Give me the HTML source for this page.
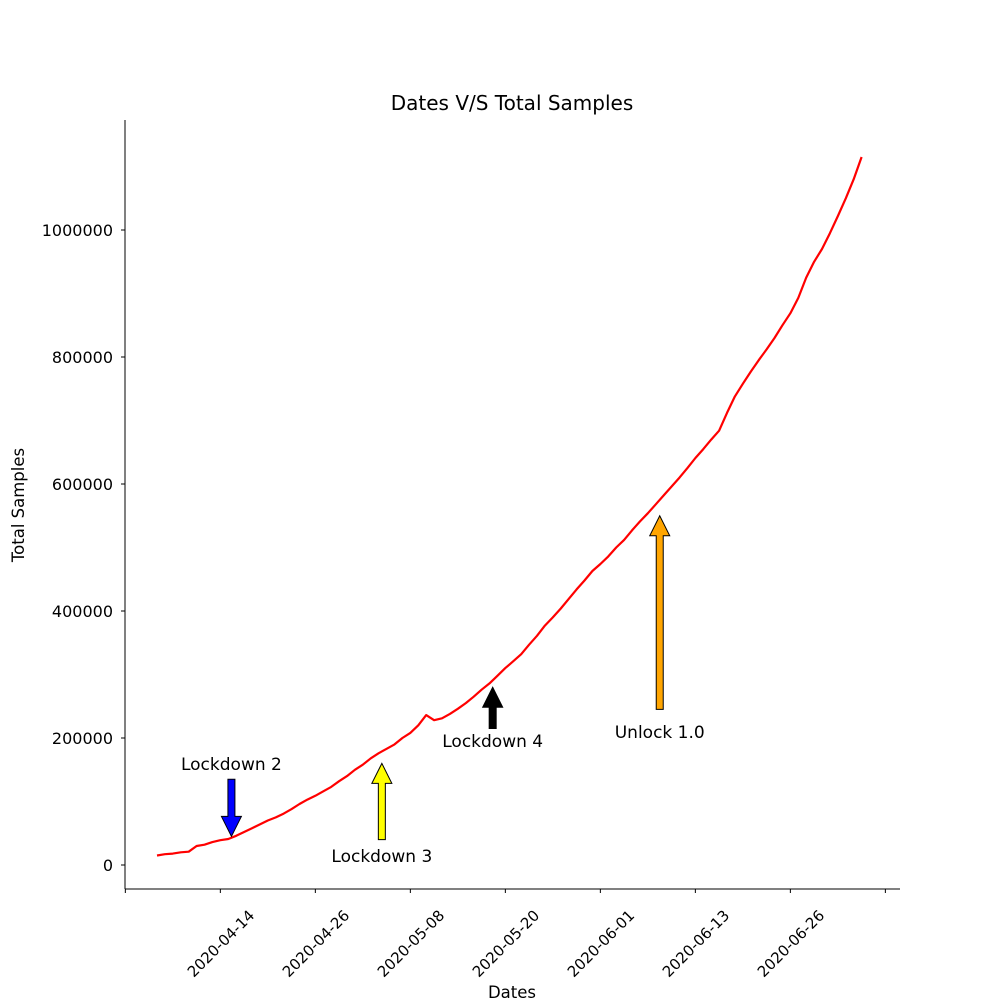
<!DOCTYPE html>
<html><head><meta charset="utf-8"><style>
body{margin:0;background:#fff;font-family:"Liberation Sans","DejaVu Sans",sans-serif}
</style></head><body>
<svg id="chart" width="1000" height="1000" xmlns="http://www.w3.org/2000/svg" style="font-family:'DejaVu Sans','Liberation Sans',sans-serif">
<rect width="1000" height="1000" fill="#fff"/>
<text x="512" y="110" text-anchor="middle" font-size="20">Dates V/S Total Samples</text>
<text x="512" y="998" text-anchor="middle" font-size="16.5">Dates</text>
<text transform="translate(24,505) rotate(-90)" text-anchor="middle" font-size="16.5">Total Samples</text>
<g id="axes"></g>
<g id="plot"></g>
<g id="ann"></g>
</svg>
<script>
const values=[15000,17000,18000,20000,21000,30000,32000,36000,39000,41000,46000,52000,58000,64000,70000,75000,81000,88000,96000,103000,109000,116000,123000,132000,140000,150000,158000,168000,176000,183000,190000,200000,208000,220000,236000,228000,231000,238000,246000,255000,265000,276000,286000,298000,310000,321000,332000,347000,361000,377000,390000,404000,419000,434000,448000,463000,474000,486000,500000,512000,527000,541000,554000,568000,582000,596000,610000,625000,641000,655000,670000,684000,712000,738000,758000,777000,795000,812000,830000,850000,869000,893000,925000,950000,970000,995000,1022000,1050000,1080000,1115000];
const xTickIdx=[-4,8,20,32,44,56,68,80,92];
const xTickLabels=["","2020-04-14","2020-04-26","2020-05-08","2020-05-20","2020-06-01","2020-06-13","2020-06-26",""];
const yTicks=[0,200000,400000,600000,800000,1000000];
const annLabels=["Lockdown 2","Lockdown 3","Lockdown 4","Unlock 1.0"];
const annIdx=[9.4,28.4,42.4,63.5];
const annTip=[45000,160000,280000,550000];
const annTail=[135000,40000,215000,245000];
const annTextVal=[149600,4700,185800,200000];
const annColors=["#0000ff","#ffff00","#000000","#ffa500"];
const NS="http://www.w3.org/2000/svg";
const X=i=>157+i*7.917;
const Y=v=>865-v*127/200000;
function mk(t,a,p){const e=document.createElementNS(NS,t);for(const k in a)e.setAttribute(k,a[k]);p.appendChild(e);return e;}
const axes=document.getElementById('axes'),plot=document.getElementById('plot'),ann=document.getElementById('ann');
let e=mk('line',{x1:125,y1:120,x2:125,y2:889,stroke:'#000','stroke-width':1},axes);

e=mk('line',{x1:125,y1:889,x2:900,y2:889,stroke:'#000','stroke-width':1},axes);

yTicks.forEach(v=>{const y=Y(v);
 let t=mk('line',{x1:121,y1:y,x2:125,y2:y,stroke:'#000'},axes);
 
 let l=mk('text',{x:113,y:y+6,'text-anchor':'end','font-size':16},axes);l.textContent=v;
 });
xTickIdx.forEach((i,k)=>{const x=X(i);
 let t=mk('line',{x1:x,y1:889,x2:x,y2:893,stroke:'#000'},axes);
 
 if(xTickLabels[k]){let l=mk('text',{transform:`translate(${x+1},${944}) rotate(-45)`,'text-anchor':'middle','font-size':15,'dominant-baseline':'middle'},axes);l.textContent=xTickLabels[k];
 }});
const pts=values.map((v,i)=>X(i).toFixed(1)+','+Y(v).toFixed(1)).join(' ');
let line=mk('polyline',{points:pts,fill:'none',stroke:'#ff0000','stroke-width':2.2,'stroke-linejoin':'round'},plot);

annLabels.forEach((lab,k)=>{
 const x=X(annIdx[k]),yt=Y(annTip[k]),yb=Y(annTail[k]);const dir=yb>yt?1:-1;
 const hl=20*dir,hw=10,sw=3.5;
 const p=[[x,yt],[x+hw,yt+hl],[x+sw,yt+hl],[x+sw,yb],[x-sw,yb],[x-sw,yt+hl],[x-hw,yt+hl]].map(a=>a.join(',')).join(' ');
 let a=mk('polygon',{points:p,fill:annColors[k],stroke:'#000','stroke-width':1},ann);
 
 let t=mk('text',{x:x,y:Y(annTextVal[k]),'text-anchor':'middle','font-size':17},ann);t.textContent=lab;
 
});
</script>
</body></html>
